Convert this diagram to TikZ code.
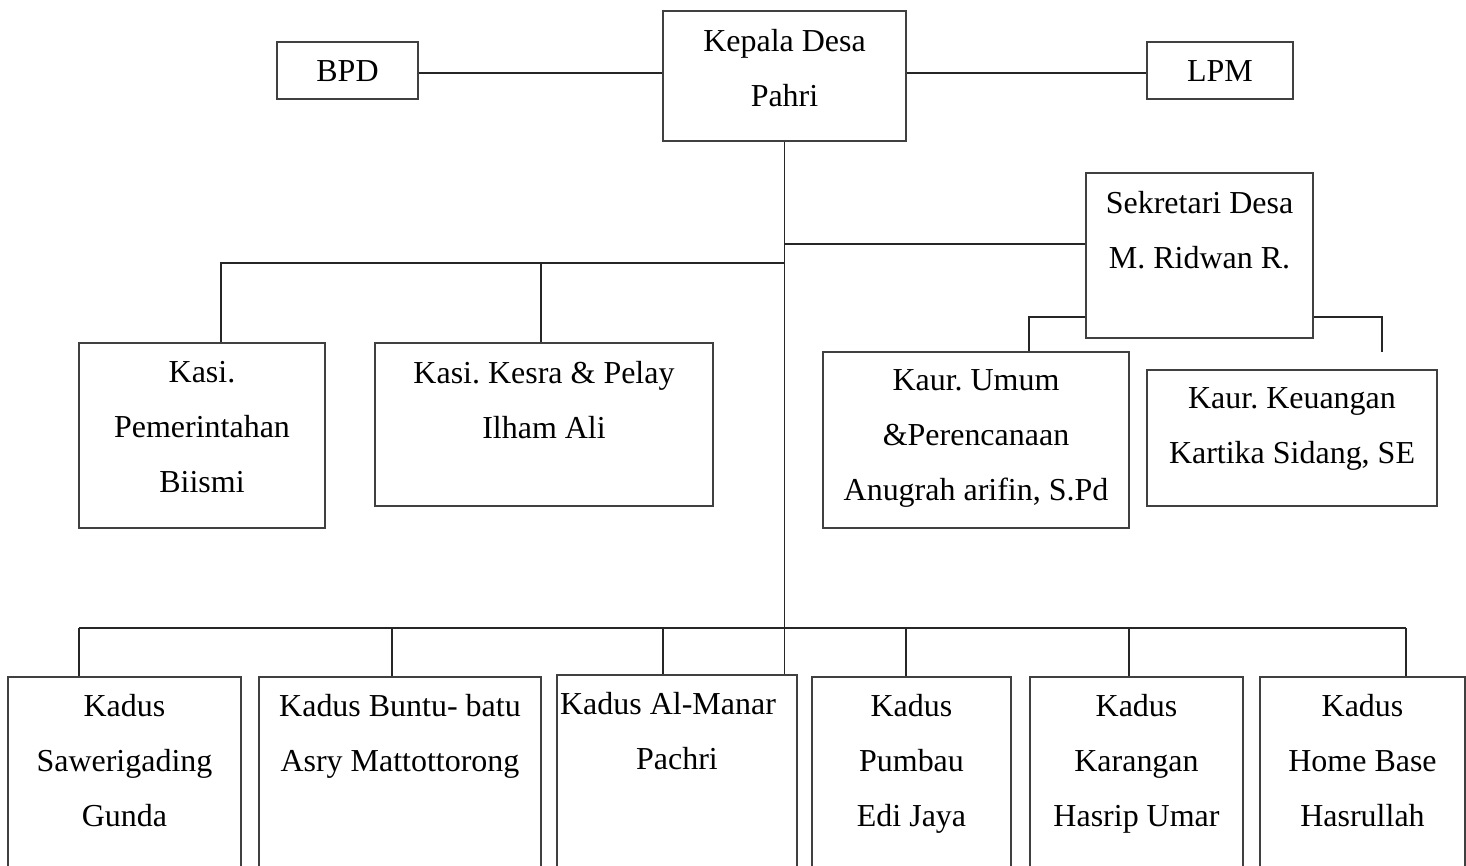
\documentclass[tikz,border=0pt]{standalone}
\usepackage{fontspec}
\setmainfont{Liberation Serif}
\frenchspacing
\usetikzlibrary{calc,fit,positioning}
\tikzset{
  box/.style={draw=black!75,line width=0.7pt,inner sep=0pt},
  link/.style={black!85,line width=0.7pt},
  lbl/.style={font=\fontsize{18.2}{31.3}\selectfont,align=center,inner sep=0pt,anchor=north},
}

\begin{document}
\begin{tikzpicture}[x=0.02cm,y=-0.02cm]
  \useasboundingbox (0,0) rectangle (1466,865);
  \clip (0,0) rectangle (1466,865);
  % kepala desa and its partners
  \node[box,fit={(663,11) (906,141)}] (kades) {};
  \node[box,fit={(277,42) (418,99)}] (bpd) {};
  \node[box,fit={(1147,42) (1293,99)}] (lpm) {};
  \node[lbl] (kades-t) at ($(kades.north)+(0,19)$) {Kepala Desa\\Pahri};
  \node[lbl] (bpd-t) at ($(bpd.north)+(0,19)$) {BPD};
  \node[lbl] (lpm-t) at ($(lpm.north)+(0,19)$) {LPM};
  \coordinate (h0) at (663,73);
  \draw[link] (h0 -| bpd.east) -- (h0 -| kades.west);
  \draw[link] (h0 -| kades.east) -- (h0 -| lpm.west);
  % sekretaris and kaur
  \node[box,fit={(1086,173) (1313,338)}] (sekdes) {};
  \node[box,fit={(823,352) (1129,528)}] (kaurum) {};
  \node[box,fit={(1147,370) (1437,506)}] (kaurkeu) {};
  \node[lbl] (sekdes-t) at ($(sekdes.north)+(0,19)$) {Sekretari Desa\\M. Ridwan R.};
  \node[lbl] (kaurum-t) at ($(kaurum.north)+(0,18)$) {Kaur. Umum\\\&Perencanaan\\Anugrah arifin, S.Pd};
  \node[lbl] (kaurkeu-t) at ($(kaurkeu.north)+(0,18)$) {Kaur. Keuangan\\Kartika Sidang, SE};
  \coordinate (s0) at (784.5,244);
  \coordinate (s1) at (1029,317);
  \coordinate (s2) at (1382,317);
  \coordinate (s2e) at (1382,352);
  \draw[link] (s0) -- (s0 -| sekdes.west);
  \draw[link] (s1 -| sekdes.west) -- (s1) -- (s1 |- kaurum.north);
  \draw[link] (s2 -| sekdes.east) -- (s2) -- (s2e);
  % kasi
  \node[box,fit={(79,343) (325,528)}] (kasipem) {};
  \node[box,fit={(375,343) (713,506)}] (kasikesra) {};
  \node[lbl] (kasipem-t) at ($(kasipem.north)+(0,19)$) {Kasi.\\Pemerintahan\\Biismi};
  \node[lbl] (kasikesra-t) at ($(kasikesra.north)+(0,19)$) {Kasi. Kesra \& Pelay\\Ilham Ali};
  \coordinate (k0) at (784.5,263);
  \coordinate (k1) at (221,263);
  \coordinate (k2) at (541,263);
  \draw[link] (k0) -- (k1) -- (k1 |- kasipem.north);
  \draw[link] (k2) -- (k2 |- kasikesra.north);
  % kadus
  \node[box,fit={(8,677) (241,880)}] (dus1) {};
  \node[box,fit={(259,677) (541,880)}] (dus2) {};
  \node[box,fit={(557,675) (797,880)}] (dus3) {};
  \node[box,fit={(812,677) (1011,880)}] (dus4) {};
  \node[box,fit={(1030,677) (1243,880)}] (dus5) {};
  \node[box,fit={(1260,677) (1465,880)}] (dus6) {};
  \node[lbl] (dus1-t) at ($(dus1.north)+(0,18)$) {Kadus\\Sawerigading\\Gunda};
  \node[lbl] (dus2-t) at ($(dus2.north)+(0,18)$) {Kadus Buntu- batu\\Asry Mattottorong};
  \node[lbl] (dus3-t) at ($(dus3.north)+(0,18)$) {Kadus Al-Manar\hspace*{0.36cm}\\Pachri};
  \node[lbl] (dus4-t) at ($(dus4.north)+(0,18)$) {Kadus\\Pumbau\\Edi Jaya};
  \node[lbl] (dus5-t) at ($(dus5.north)+(0,18)$) {Kadus\\Karangan\\Hasrip Umar};
  \node[lbl] (dus6-t) at ($(dus6.north)+(0,18)$) {Kadus\\Home Base\\Hasrullah};
  \draw[link] (kades.south) -- (kades.south |- dus3.north);
  \coordinate (b1) at (79,628);
  \coordinate (b2) at (1406,628);
  \draw[link] (b1) -- (b2);
  \foreach \x/\b in {79/dus1,392/dus2,663/dus3,906/dus4,1129/dus5,1406/dus6}
    \draw[link] (\x,628) -- (\x,628 |- \b.north);
\end{tikzpicture}
\end{document}
